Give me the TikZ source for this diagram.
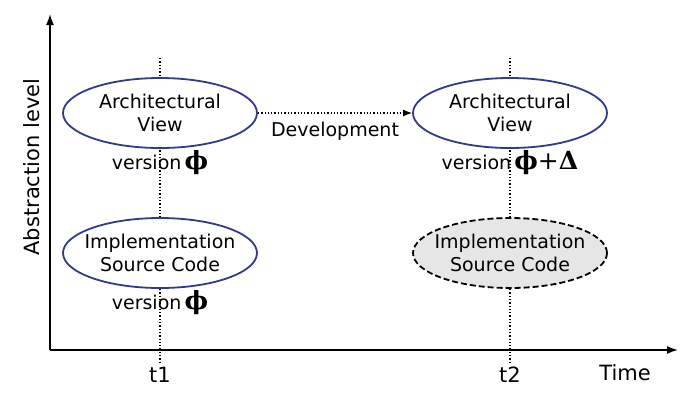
\documentclass[tikz,border=0pt]{standalone}
\usepackage{fontspec}
\setmainfont{DejaVu Sans}
\newfontfamily\greekfont{DejaVu Serif}
\usepackage{tikz}
\usetikzlibrary{shapes,
                arrows.meta,
                positioning}
\definecolor{viewblue}{HTML}{333A8A}
\definecolor{futuregray}{HTML}{E6E6E6}
\tikzset{view/.style =
   {ellipse,
    draw=viewblue,
    line width=1.8pt,
    fill=white,
    align=center,
    inner xsep=-8pt,
    inner ysep=0pt,
    minimum width=194pt,
    minimum height=70pt,
    font=\fontsize{19}{23}\selectfont}}
\tikzset{planned/.style = {view, draw=black, dash pattern=on 6pt off 3pt, fill=futuregray}}
\tikzset{axis/.style = {draw, line width=1.6pt, -{Latex[length=11pt, width=8pt]}}}
\tikzset{timeline/.style = {draw, dotted, line width=1.3pt}}
\tikzset{tag/.style = {font=\fontsize{19}{23}\selectfont, inner sep=1pt}}
\tikzset{axislabel/.style = {font=\fontsize{21}{25}\selectfont}}
\newcommand{\vphi}{{\greekfont\fontsize{25}{25}\selectfont\bfseries ϕ}}
\newcommand{\vplus}{{\greekfont\fontsize{25}{25}\selectfont +}}
\newcommand{\vdelta}{{\greekfont\fontsize{25}{25}\selectfont\bfseries Δ}}

\begin{document}
\begin{tikzpicture}[x=1pt, y=-1pt]
    \useasboundingbox (0,0) rectangle (700,400);

    % axes
    \coordinate (origin) at (50,350);
    \coordinate (ytop) at (50,14);
    \coordinate (xend) at (678,350);
    \draw [axis] (origin) -- (ytop);
    \draw [axis] (origin) -- (xend);
    \node [axislabel, rotate=90] (abstraction) at (32,167) {Abstraction level};
    \node [axislabel] (time) at (625,373) {Time};

    % time marks
    \node [axislabel] (t1) at (160,375) {t1};
    \node [axislabel] (t2) at (510,375) {t2};
    \coordinate (t1top) at (160,58);
    \coordinate (t2top) at (510,58);
    \draw [timeline] (t1top) -- (t1.north);
    \draw [timeline] (t2top) -- (t2.north);

    % views at t1
    \node [view] (archA) at (160,113) {Architectural\\View};
    \node [tag] (verA) at (160,163) {version\,\vphi};
    \node [view] (implA) at (160,253) {Implementation\\Source Code};
    \node [tag] (verB) at (160,303) {version\,\vphi};

    % views at t2
    \node [view] (archB) at (510,113) {Architectural\\View};
    \node [tag] (verC) at (510,163) {version\,\vphi\vplus\vdelta};
    \node [planned] (implB) at (510,253) {Implementation\\Source Code};

    \draw [dotted, line width=1.3pt, -{Latex[length=9pt, width=7pt]}] (archA) -- (archB)
     node [tag, midway, below=7pt] (dev) {Development};

\end{tikzpicture}
\end{document}
